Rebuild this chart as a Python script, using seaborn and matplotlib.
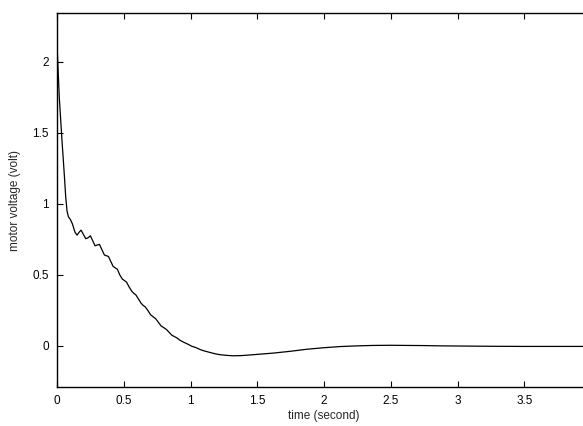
import numpy as np
import pandas as pd
import matplotlib
matplotlib.use("Agg")
import matplotlib.pyplot as plt
import seaborn as sns

# motor voltage response
time_s = [0.0, 0.017, 0.037, 0.055, 0.065, 0.075, 0.085, 0.10, 0.115, 0.135,
          0.15, 0.165, 0.18, 0.195, 0.215, 0.23, 0.25, 0.265, 0.285, 0.30,
          0.318, 0.335, 0.355, 0.37, 0.385, 0.40, 0.42, 0.435, 0.452, 0.47,
          0.49, 0.505, 0.52, 0.54, 0.56, 0.575, 0.59, 0.61, 0.63, 0.645,
          0.66, 0.68, 0.70, 0.72, 0.74, 0.76, 0.78, 0.80, 0.82, 0.84,
          0.86, 0.88, 0.90, 0.92, 0.95, 0.98, 1.01, 1.04, 1.07, 1.10,
          1.14, 1.18, 1.22, 1.27, 1.32, 1.37, 1.42, 1.50, 1.62, 1.75,
          1.87, 2.0, 2.12, 2.25, 2.37, 2.5, 2.62, 2.75, 2.87, 3.0,
          3.12, 3.25, 3.5, 3.75, 4.0]
voltage = [2.12, 1.75, 1.45, 1.2, 1.05, 0.95, 0.91, 0.89, 0.86, 0.80,
           0.78, 0.80, 0.815, 0.79, 0.755, 0.76, 0.775, 0.745, 0.705, 0.71,
           0.715, 0.68, 0.64, 0.635, 0.63, 0.60, 0.56, 0.55, 0.54, 0.50,
           0.47, 0.46, 0.45, 0.415, 0.385, 0.37, 0.36, 0.33, 0.30, 0.285,
           0.275, 0.25, 0.22, 0.205, 0.19, 0.165, 0.14, 0.128, 0.115, 0.095,
           0.075, 0.065, 0.055, 0.04, 0.025, 0.012, -0.003, -0.012, -0.025, -0.035,
           -0.045, -0.055, -0.062, -0.067, -0.07, -0.069, -0.066, -0.06, -0.051, -0.038,
           -0.024, -0.013, -0.005, 0.0, 0.003, 0.004, 0.003, 0.002, 0.0, -0.001,
           -0.002, -0.003, -0.004, -0.004, -0.004]

x_ticks = [0, 0.5, 1, 1.5, 2, 2.5, 3, 3.5]
y_ticks = [0, 0.5, 1, 1.5, 2]

df = pd.DataFrame({"time": time_s, "voltage": voltage})

sns.set_theme(style="ticks")
plt.rcParams["font.family"] = ["Liberation Sans", "DejaVu Sans"]

fig = plt.figure(figsize=(5.83, 4.26), dpi=100)
# axes extend past the right edge, as in the cropped original
ax = fig.add_axes([0.0978, 0.0915, 0.916, 0.878])

sns.lineplot(data=df, x="time", y="voltage", ax=ax, color="black", lw=0.9)

ax.set_xlim(0, 4)
ax.set_ylim(-0.29, 2.345)
ax.set_xticks(x_ticks)
ax.set_xticklabels([f"{t:g}" for t in x_ticks])
ax.set_yticks(y_ticks)
ax.set_yticklabels([f"{t:g}" for t in y_ticks])
ax.tick_params(direction="in", length=4, width=0.8, labelsize=8.5,
               top=True, right=True, colors="black", pad=6)
for s in ax.spines.values():
    s.set_linewidth(1.0)
    s.set_color("black")

ax.set_xlabel("time (second)", fontsize=8.5, labelpad=2)
ax.set_ylabel("motor voltage (volt)", fontsize=8.5, labelpad=8)

fig.savefig("out.png", dpi=100)
